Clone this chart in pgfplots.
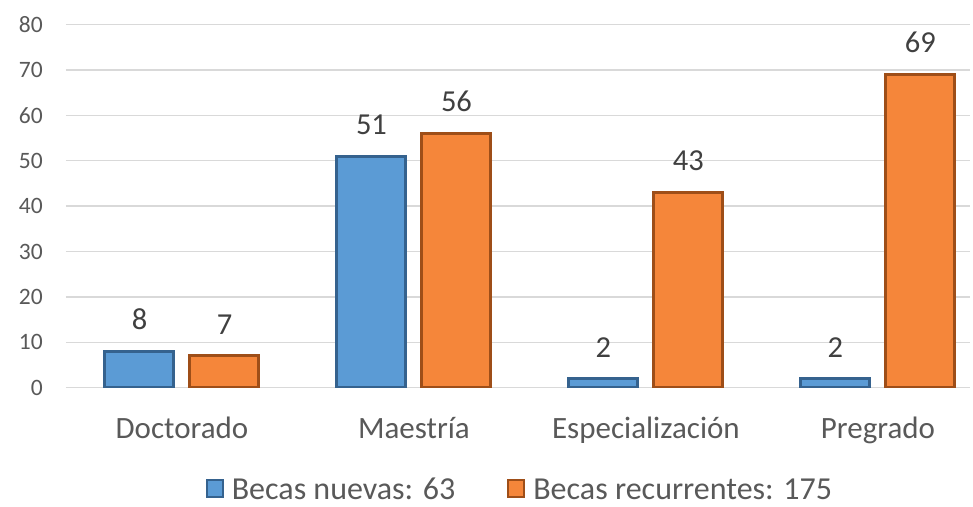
\documentclass[border=0pt]{standalone}
\usepackage{fontspec}
\setmainfont{Carlito}
\usepackage{pgfplots}
\pgfplotsset{compat=1.18}
\definecolor{txtgray}{HTML}{595959}
\definecolor{lblgray}{HTML}{404040}
\definecolor{gridgray}{HTML}{D9D9D9}
\definecolor{bluemain}{HTML}{5B9BD5}
\definecolor{blueedge}{HTML}{35628E}
\definecolor{orgmain}{HTML}{F5863A}
\definecolor{orgedge}{HTML}{9E4E18}

\begin{document}
\begin{tikzpicture}
\useasboundingbox (-66pt,-118.3pt) rectangle (907pt,387.7pt);
\begin{axis}[
    scale only axis,
    width=904pt, height=363.2pt,
    xmin=-0.5, xmax=3.397,
    ymin=0, ymax=80,
    ytick={0,10,...,80},
    xtick={0,1,2,3},
    xticklabels={Doctorado,Maestría,Especialización,Pregrado},
    ymajorgrids,
    grid style={draw=gridgray, line width=1.3pt},
    axis line style={draw=none},
    major tick length=0pt,
    /pgf/number format/assume math mode=true,
    yticklabel style={font=\fontsize{23.5}{28}\selectfont, text=txtgray, inner sep=0pt, anchor=east, xshift=-23pt},
    xticklabel style={font=\fontsize{31}{37}\selectfont, text=txtgray, inner sep=0pt, anchor=base, yshift=-51pt},
    ybar=16pt,
    bar width=69pt,
    nodes near coords,
    every node near coord/.append style={font=\fontsize{30.5}{36}\selectfont, text=lblgray, inner sep=0pt, anchor=south, yshift=20pt},
    legend columns=2,
    legend style={at={(0.501,-0.279)}, anchor=center, draw=none, fill=none,
        inner sep=0pt, nodes={inner sep=0pt, text depth=0pt},
        font=\fontsize{32}{38}\selectfont, text=txtgray,
        /tikz/every odd column/.append style={column sep=8pt},
        /tikz/every even column/.append style={column sep=52pt}},
    legend image code/.code={\draw[#1, line width=2pt] (1pt,-8pt) rectangle (17pt,9pt);},
]
\addplot[fill=bluemain, draw=blueedge, line width=3pt] coordinates {(0,8) (1,51) (2,2) (3,2)};
\addlegendentry{Becas nuevas: 63}
\addplot[fill=orgmain, draw=orgedge, line width=3pt] coordinates {(0,7) (1,56) (2,43) (3,69)};
\addlegendentry{Becas recurrentes: 175}
\end{axis}
\end{tikzpicture}
\end{document}
